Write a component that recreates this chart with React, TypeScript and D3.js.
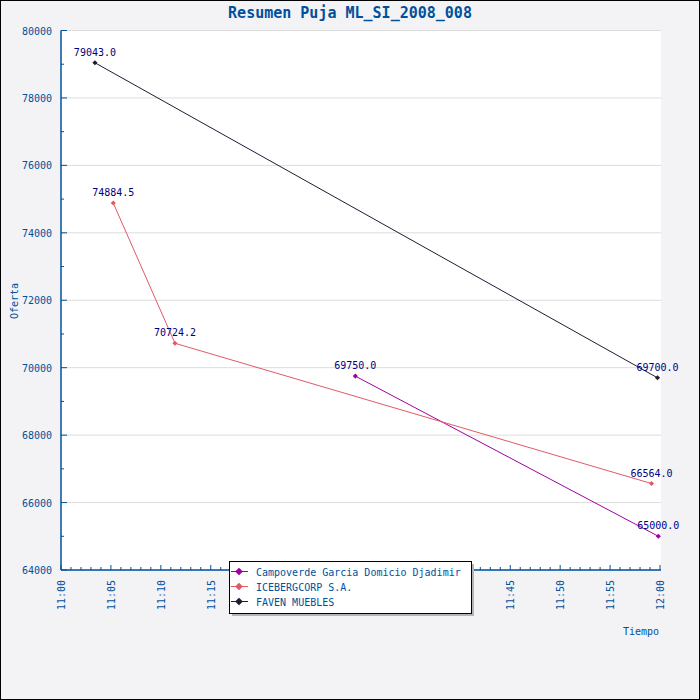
import React from "react";
import * as d3 from "d3";

// series data
const campoverdeTimes = ["11:29:29", "11:59:50"];
const campoverdeValues = [69750.0, 65000.0];
const icebergTimes = ["11:05:14", "11:11:25", "11:59:09"];
const icebergValues = [74884.5, 70724.2, 66564.0];
const favenTimes = ["11:03:24", "11:59:45"];
const favenValues = [79043.0, 69700.0];

const seriesNames = ["Campoverde Garcia Domicio Djadimir", "ICEBERGCORP S.A.", "FAVEN MUEBLES"];
const seriesColors = ["#a000a0", "#e05a64", "#221a33"];

const yTicks = [64000, 66000, 68000, 70000, 72000, 74000, 76000, 78000, 80000];
const xTickLabels = ["11:00", "11:05", "11:10", "11:15", "11:20", "11:25", "11:30", "11:35", "11:40", "11:45", "11:50", "11:55", "12:00"];

const parseT = (s: string) => {
  const p = s.split(":").map(Number);
  return new Date(2008, 0, 1, p[0], p[1], p[2] || 0);
};

const blue = "#00509c";
const font = "'DejaVu Sans Mono', monospace";

export default function App() {
  const W = 700, H = 700;
  const left = 61, right = 660, top = 30.5, bottom = 570;

  const x = d3.scaleTime().domain([parseT("11:00"), parseT("12:00")]).range([left, right]);
  const y = d3.scaleLinear().domain([64000, 80000]).range([bottom, top]);

  const series = [
    { name: seriesNames[0], color: seriesColors[0], times: campoverdeTimes, values: campoverdeValues },
    { name: seriesNames[1], color: seriesColors[1], times: icebergTimes, values: icebergValues },
    { name: seriesNames[2], color: seriesColors[2], times: favenTimes, values: favenValues },
  ];

  const line = d3.line<[Date, number]>().x((d) => x(d[0])).y((d) => y(d[1]));
  // diamond = square turned 45 degrees
  const marker = d3.symbol().type(d3.symbolSquare).size(13)() || "";
  const legendMarker = d3.symbol().type(d3.symbolSquare).size(30)() || "";

  const minorY = d3.range(64000, 80001, 1000);
  const minuteTicks = d3.timeMinute.range(parseT("11:00"), parseT("12:00:01"));

  // legend
  const lgX = 229, lgY = 561, lgW = 242, lgH = 52;

  return (
    <svg width={W} height={H} style={{ position: "absolute", left: 0, top: 0 }} fontFamily={font}>
      <rect x={0.5} y={0.5} width={W - 1} height={H - 1} fill="#f3f3f5" stroke="#000" strokeWidth={1} />
      <rect x={left} y={top} width={right - left + 1} height={bottom - top} fill="#fff" />

      {/* grid */}
      {yTicks.map((v) => (
        <line key={"g" + v} x1={left} x2={right + 1} y1={y(v)} y2={y(v)} stroke="#dcdcdc" />
      ))}

      {/* title */}
      <text x={350} y={18} textAnchor="middle" fontSize={15} fontWeight="bold" fill={blue}>
        Resumen Puja ML_SI_2008_008
      </text>

      {/* y axis */}
      <line x1={left} x2={left} y1={top} y2={bottom} stroke={blue} strokeWidth={1.5} />
      {minorY.map((v) => (
        <line key={"ym" + v} x1={left} x2={left + (v % 2000 === 0 ? 6 : 3)} y1={y(v)} y2={y(v)} stroke={blue} />
      ))}
      {yTicks.map((v) => (
        <text key={"yl" + v} x={52} y={y(v) + 4} textAnchor="end" fontSize={10} fill={blue}>
          {v}
        </text>
      ))}
      <text transform={`translate(18,301) rotate(-90)`} textAnchor="middle" fontSize={10} fill={blue}>
        Oferta
      </text>

      {/* x axis */}
      <line x1={left} x2={right + 1} y1={bottom} y2={bottom} stroke={blue} strokeWidth={1.5} />
      {minuteTicks.map((t, i) => (
        <line key={"xm" + i} x1={x(t)} x2={x(t)} y1={bottom} y2={bottom - (i % 5 === 0 ? 5 : 3)} stroke={blue} />
      ))}
      {xTickLabels.map((l) => (
        <text key={"xl" + l} transform={`translate(${x(parseT(l)) + 4},580) rotate(-90)`} textAnchor="end" fontSize={10} fill={blue}>
          {l}
        </text>
      ))}
      <text x={659} y={635} textAnchor="end" fontSize={10} fill={blue}>
        Tiempo
      </text>

      {/* series */}
      {series.map((s) => {
        const pts: [Date, number][] = s.times.map((t, i) => [parseT(t), s.values[i]]);
        return (
          <g key={s.name}>
            <path d={line(pts) || ""} fill="none" stroke={s.color} strokeWidth={1} />
            {pts.map((p, i) => (
              <path key={i} d={marker} transform={`translate(${x(p[0])},${y(p[1])}) rotate(45)`} fill={s.color} />
            ))}
            {pts.map((p, i) => (
              <text key={"t" + i} x={x(p[0])} y={y(p[1]) - 7} textAnchor="middle" fontSize={10} fill="#000080">
                {p[1].toFixed(1)}
              </text>
            ))}
          </g>
        );
      })}

      {/* legend */}
      <rect x={lgX + 3} y={lgY + 3} width={lgW} height={lgH} fill="#b4b4b4" />
      <rect x={lgX + 0.5} y={lgY + 0.5} width={lgW} height={lgH} fill="#fff" stroke="#000" />
      {series.map((s, i) => {
        const ry = lgY + 10.5 + i * 15;
        return (
          <g key={"lg" + i}>
            <line x1={lgX + 2} x2={lgX + 19} y1={ry} y2={ry} stroke={s.color} />
            <path d={legendMarker} transform={`translate(${lgX + 10},${ry}) rotate(45)`} fill={s.color} />
            <text x={lgX + 27} y={ry + 4} fontSize={10} fill={blue}>
              {s.name}
            </text>
          </g>
        );
      })}
    </svg>
  );
}
